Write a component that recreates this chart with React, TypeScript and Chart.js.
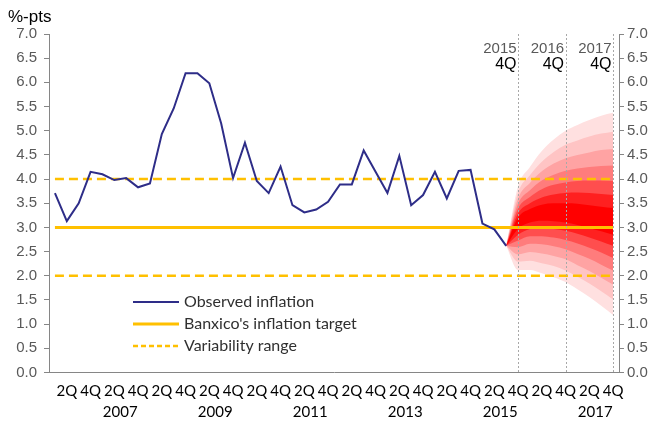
import React, { useEffect, useRef } from "react";
import { Chart, registerables } from "chart.js";

Chart.register(...registerables);

// ---------- DATA ----------
const years = [2006, 2007, 2008, 2009, 2010, 2011, 2012, 2013, 2014, 2015, 2016, 2017];
const quarters = ["1Q", "2Q", "3Q", "4Q"];
const shownQuarters = ["2Q", "4Q"];
const yearTickLabels = ["2007", "2009", "2011", "2013", "2015", "2017"];

// Observed inflation, 2006 1Q .. 2015 3Q
const observed = [
  3.71, 3.13, 3.5, 4.15, 4.1, 3.98, 4.02, 3.83, 3.91, 4.93, 5.46, 6.19, 6.19, 5.98, 5.15, 4.02,
  4.75, 3.96, 3.71, 4.26, 3.46, 3.31, 3.37, 3.53, 3.89, 3.89, 4.59, 4.15, 3.71, 4.48, 3.46, 3.67,
  4.15, 3.6, 4.17, 4.19, 3.08, 2.96, 2.62,
];

const inflationTarget = 3.0;
const variabilityUpper = 4.0;
const variabilityLower = 2.0;

// Fan chart, 2015 3Q .. 2017 4Q (outermost band first)
const fanStartLabel = "2015 3Q";
const fanUpper = [
  [2.62, 3.85, 4.25, 4.58, 4.82, 5.0, 5.12, 5.22, 5.31, 5.37],
  [2.62, 3.72, 4.08, 4.36, 4.56, 4.71, 4.8, 4.88, 4.94, 4.98],
  [2.62, 3.6, 3.92, 4.16, 4.32, 4.43, 4.5, 4.55, 4.6, 4.62],
  [2.62, 3.49, 3.77, 3.97, 4.09, 4.17, 4.22, 4.25, 4.27, 4.28],
  [2.62, 3.39, 3.63, 3.79, 3.88, 3.93, 3.96, 3.97, 3.97, 3.96],
  [2.62, 3.29, 3.5, 3.62, 3.68, 3.71, 3.72, 3.71, 3.69, 3.67],
  [2.62, 3.2, 3.38, 3.47, 3.5, 3.5, 3.49, 3.46, 3.43, 3.4],
];
const fanLower = [
  [2.62, 2.12, 2.12, 2.05, 1.97, 1.87, 1.72, 1.56, 1.38, 1.19],
  [2.62, 2.29, 2.31, 2.26, 2.2, 2.11, 1.98, 1.84, 1.68, 1.51],
  [2.62, 2.44, 2.49, 2.46, 2.41, 2.34, 2.22, 2.1, 1.96, 1.82],
  [2.62, 2.59, 2.66, 2.65, 2.61, 2.55, 2.45, 2.35, 2.23, 2.11],
  [2.62, 2.73, 2.82, 2.82, 2.79, 2.74, 2.67, 2.58, 2.48, 2.37],
  [2.62, 2.85, 2.97, 2.99, 2.97, 2.93, 2.87, 2.79, 2.71, 2.62],
  [2.62, 2.97, 3.1, 3.14, 3.13, 3.1, 3.05, 2.99, 2.92, 2.85],
];
const fanColors = ["#FFE0E0", "#FFC4C4", "#FFA3A3", "#FF7C7C", "#FF4E4E", "#FF2020", "#FF0000"];

const markerLabels = [
  { at: "2015 4Q", year: "2015", q: "4Q" },
  { at: "2016 4Q", year: "2016", q: "4Q" },
  { at: "2017 4Q", year: "2017", q: "4Q" },
];

const legendItems = [
  { text: "Observed inflation", color: "#2E2D88", width: 2, dash: [] as number[] },
  { text: "Banxico's inflation target", color: "#FFC000", width: 3, dash: [] as number[] },
  { text: "Variability range", color: "#FFC000", width: 2.5, dash: [5, 3] },
];

const yMin = 0;
const yMax = 7;
const yStep = 0.5;

// ---------- BUILD ----------
const categories: string[] = [];
years.forEach((y) => quarters.forEach((q) => categories.push(`${y} ${q}`)));
const N = categories.length;
const fanStart = categories.indexOf(fanStartLabel);

const pad = (vals: number[], start: number) => {
  const arr: (number | null)[] = new Array(N).fill(null);
  vals.forEach((v, i) => (arr[start + i] = v));
  return arr;
};
const flat = (v: number) => new Array(N).fill(v);

const overlayPlugin = {
  id: "overlay",
  afterDatasetsDraw(chart: any) {
    const { ctx, chartArea, scales } = chart;
    const x = scales.x;
    ctx.save();
    ctx.strokeStyle = "#A8A8A8";
    ctx.lineWidth = 1;
    ctx.setLineDash([2, 2]);
    markerLabels.forEach((m) => {
      const px = Math.round(x.getPixelForValue(categories.indexOf(m.at))) + 0.5;
      ctx.beginPath();
      ctx.moveTo(px, chartArea.top);
      ctx.lineTo(px, chartArea.bottom);
      ctx.stroke();
    });
    ctx.restore();
  },
  afterDraw(chart: any) {
    const { ctx, chartArea, scales } = chart;
    const x = scales.x;
    ctx.save();
    // unit label
    ctx.fillStyle = "#000";
    ctx.font = "17px 'Liberation Sans'";
    ctx.textAlign = "left";
    ctx.textBaseline = "alphabetic";
    ctx.fillText("%-pts", 8, 22);

    // marker annotations
    ctx.textAlign = "right";
    ctx.textBaseline = "middle";
    markerLabels.forEach((m) => {
      const px = x.getPixelForValue(categories.indexOf(m.at));
      ctx.fillStyle = "#595959";
      ctx.font = "15px 'Liberation Sans'";
      ctx.fillText(m.year, px - 1.5, 48.5);
      ctx.fillStyle = "#000";
      ctx.font = "16px 'Liberation Sans'";
      ctx.fillText(m.q, px - 1.5, 64.5);
    });

    // year labels
    ctx.textAlign = "center";
    ctx.fillStyle = "#000";
    ctx.font = "15px Lato";
    yearTickLabels.forEach((yl) => {
      const a = x.getPixelForValue(categories.indexOf(`${yl} 2Q`));
      const b = x.getPixelForValue(categories.indexOf(`${yl} 3Q`));
      ctx.fillText(yl, (a + b) / 2, chartArea.bottom + 40);
    });

    // legend
    const lx0 = chartArea.left + 84;
    const lx1 = lx0 + 46;
    legendItems.forEach((it, i) => {
      const ly = chartArea.top + 268 + i * 22;
      ctx.beginPath();
      ctx.strokeStyle = it.color;
      ctx.lineWidth = it.width;
      ctx.setLineDash(it.dash);
      ctx.moveTo(lx0, ly);
      ctx.lineTo(lx1, ly);
      ctx.stroke();
      ctx.setLineDash([]);
      ctx.fillStyle = "#303030";
      ctx.font = "16px Lato";
      ctx.textAlign = "left";
      ctx.fillText(it.text, lx1 + 5, ly);
    });
    ctx.restore();
  },
};

export default function App() {
  const ref = useRef<HTMLCanvasElement | null>(null);

  useEffect(() => {
    if (!ref.current) return;
    const datasets: any[] = [];
    fanUpper.forEach((up, k) => {
      datasets.push({
        data: pad(up, fanStart),
        fill: 2 * k + 1,
        backgroundColor: fanColors[k],
        borderColor: "rgba(0,0,0,0)",
        borderWidth: 0,
        pointRadius: 0,
        cubicInterpolationMode: "monotone",
        order: 100 - k,
      });
      datasets.push({
        data: pad(fanLower[k], fanStart),
        fill: false,
        borderColor: "rgba(0,0,0,0)",
        borderWidth: 0,
        pointRadius: 0,
        cubicInterpolationMode: "monotone",
        order: 100 - k,
      });
    });
    datasets.push({
      data: flat(variabilityUpper),
      borderColor: "#FFC000",
      borderWidth: 2.5,
      borderDash: [9, 5],
      pointRadius: 0,
      fill: false,
      order: 10,
    });
    datasets.push({
      data: flat(variabilityLower),
      borderColor: "#FFC000",
      borderWidth: 2.5,
      borderDash: [9, 5],
      pointRadius: 0,
      fill: false,
      order: 10,
    });
    datasets.push({
      data: flat(inflationTarget),
      borderColor: "#FFC000",
      borderWidth: 3,
      pointRadius: 0,
      fill: false,
      order: 9,
    });
    datasets.push({
      data: pad(observed, 0),
      borderColor: "#2E2D88",
      borderWidth: 2,
      pointRadius: 0,
      fill: false,
      order: 1,
    });

    const yAxis = (pos: "left" | "right", width: number, padding: number) => ({
      type: "linear",
      position: pos,
      min: yMin,
      max: yMax,
      ticks: {
        stepSize: yStep,
        callback: (v: any) => Number(v).toFixed(1),
        color: "#595959",
        font: { family: "'Liberation Sans'", size: 15 },
        padding,
      },
      grid: { drawOnChartArea: false, drawTicks: true, tickLength: 5, color: "#868686" },
      border: { color: "#868686", width: 1 },
      afterFit: (s: any) => {
        s.width = width;
      },
    });

    const chart = new Chart(ref.current, {
      type: "line",
      data: { labels: categories, datasets },
      plugins: [overlayPlugin],
      options: {
        responsive: false,
        animation: false,
        layout: { padding: { top: 34, left: 0, right: 0, bottom: 0 } },
        plugins: { legend: { display: false }, tooltip: { enabled: false } },
        scales: {
          x: {
            type: "category",
            offset: true,
            grid: { display: false, drawTicks: false },
            border: { color: "#868686", width: 1 },
            ticks: {
              autoSkip: false,
              maxRotation: 0,
              minRotation: 0,
              padding: 10,
              color: "#000",
              font: { family: "Lato", size: 15 },
              callback: (_v: any, i: number) => {
                const q = categories[i].split(" ")[1];
                return shownQuarters.includes(q) ? q : "";
              },
            },
            afterFit: (s: any) => {
              s.height = 49.5;
            },
          },
          y: yAxis("left", 49, 7),
          y2: yAxis("right", 30, 3),
        } as any,
      },
    });
    return () => chart.destroy();
  }, []);

  return (
    <div style={{ position: "absolute", left: 0, top: 0, width: 649, height: 422 }}>
      <canvas ref={ref} width={649} height={422} style={{ display: "block" }} />
    </div>
  );
}
